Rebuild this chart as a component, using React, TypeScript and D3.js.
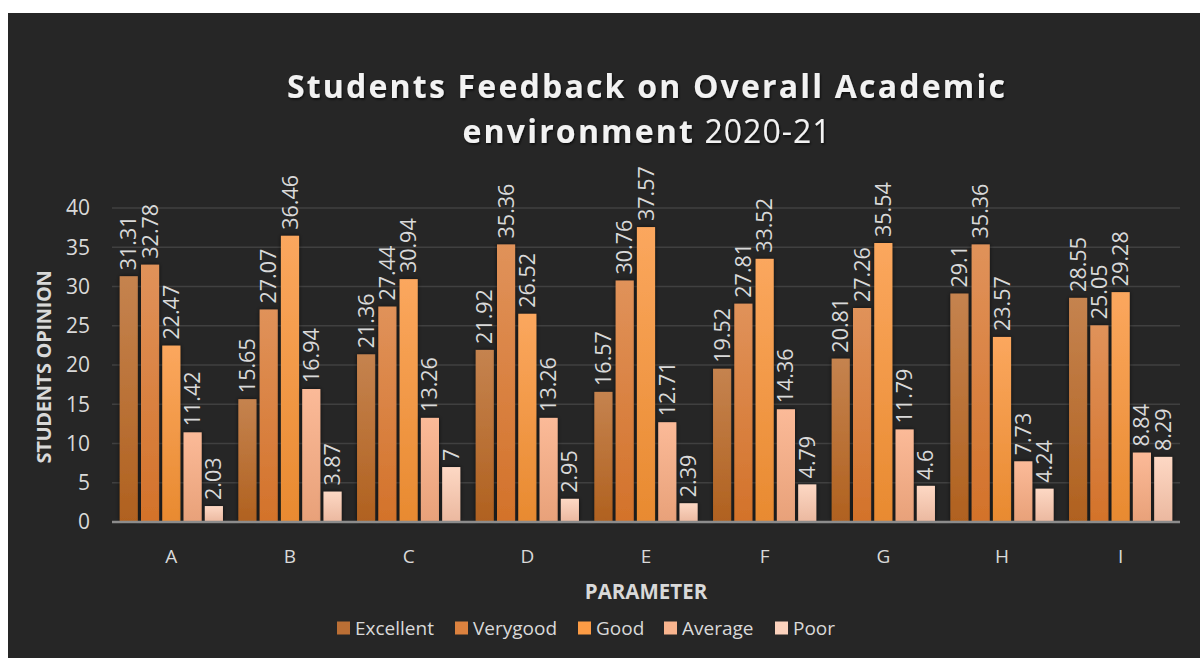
import { scaleBand, scaleLinear } from 'd3'

const categories = ['A', 'B', 'C', 'D', 'E', 'F', 'G', 'H', 'I']
const seriesNames = ['Excellent', 'Verygood', 'Good', 'Average', 'Poor']
const excellent = [31.31, 15.65, 21.36, 21.92, 16.57, 19.52, 20.81, 29.1, 28.55]
const verygood = [32.78, 27.07, 27.44, 35.36, 30.76, 27.81, 27.26, 35.36, 25.05]
const good = [22.47, 36.46, 30.94, 26.52, 37.57, 33.52, 35.54, 23.57, 29.28]
const average = [11.42, 16.94, 13.26, 13.26, 12.71, 14.36, 11.79, 7.73, 8.84]
const poor = [2.03, 3.87, 7, 2.95, 2.39, 4.79, 4.6, 4.24, 8.29]
const yTicks = [0, 5, 10, 15, 20, 25, 30, 35, 40]

const seriesValues = [excellent, verygood, good, average, poor]
const gradients = [
  ['#c5834f', '#b0611f'],
  ['#e0925a', '#d3722a'],
  ['#fba75e', '#e88a30'],
  ['#fbba98', '#e8a179'],
  ['#fdd8c4', '#ebb89f'],
]
const legendColors = ['#bb6f35', '#dc823f', '#fd9c45', '#f8b48e', '#fbd2bd']

const W = 1200
const H = 658
const BG = '#262626'
const TEXT = '#d9d9d9'
const FONT = '"Open Sans", sans-serif'
const PLOT = { left: 112, right: 1180, top: 208, bottom: 522 }

export default function App() {
  const x = scaleBand<string>()
    .domain(categories)
    .range([PLOT.left, PLOT.right])
    .paddingInner(0.13)
    .paddingOuter(0.065)
  const xInner = scaleBand<string>()
    .domain(seriesNames)
    .range([0, x.bandwidth()])
    .paddingInner(0.15)
  const y = scaleLinear().domain([0, 40]).range([PLOT.bottom, PLOT.top])

  const legendX = [337, 455, 578, 664, 775]

  return (
    <svg
      width={W}
      height={H}
      style={{ position: 'absolute', left: 0, top: 0, display: 'block' }}
      fontFamily={FONT}
    >
      <defs>
        {gradients.map(([top, bottom], i) => (
          <linearGradient key={i} id={`grad-${i}`} x1="0" y1="0" x2="0" y2="1">
            <stop offset="0%" stopColor={top} />
            <stop offset="100%" stopColor={bottom} />
          </linearGradient>
        ))}
        <filter id="barShadow" x="-30%" y="-10%" width="160%" height="120%">
          <feDropShadow dx="0" dy="0" stdDeviation="2" floodColor="#000" floodOpacity="0.6" />
        </filter>
        <filter id="textShadow" x="-5%" y="-20%" width="110%" height="140%">
          <feDropShadow dx="1" dy="1.5" stdDeviation="1" floodColor="#000" floodOpacity="0.7" />
        </filter>
      </defs>

      <rect x="0" y="0" width={W} height={H} fill="#ffffff" />
      <rect x="8" y="13" width={W - 8} height={H - 13} fill={BG} />

      {/* title */}
      <g filter="url(#textShadow)" fill="#f2f2f2" textAnchor="middle" fontSize="32">
        <text x={647} y={98} fontWeight="bold" letterSpacing="2.2">
          Students Feedback on Overall Academic
        </text>
        <text x={647} y={143} letterSpacing="2.2">
          <tspan fontWeight="bold">environment</tspan>
          <tspan letterSpacing="1"> 2020-21</tspan>
        </text>
      </g>

      {/* gridlines */}
      {yTicks.map((t) => (
        <g key={t}>
          {t > 0 && (
            <line
              x1={PLOT.left}
              x2={PLOT.right}
              y1={y(t)}
              y2={y(t)}
              stroke="#404040"
              strokeWidth={1.5}
            />
          )}
          <text
            x={90}
            y={y(t)}
            dy="0.35em"
            textAnchor="end"
            fontSize="21"
            fill={TEXT}
          >
            {t}
          </text>
        </g>
      ))}

      {/* bars */}
      {categories.map((c, ci) => (
        <g key={c} transform={`translate(${x(c)},0)`}>
          {seriesNames.map((s, si) => {
            const v = seriesValues[si][ci]
            const bx = xInner(s) ?? 0
            return (
              <rect
                key={s}
                x={bx}
                y={y(v)}
                width={xInner.bandwidth()}
                height={y(0) - y(v)}
                fill={`url(#grad-${si})`}
                filter="url(#barShadow)"
              />
            )
          })}
        </g>
      ))}

      {/* baseline */}
      <line
        x1={PLOT.left}
        x2={PLOT.right}
        y1={y(0)}
        y2={y(0)}
        stroke="#8c8c8c"
        strokeWidth={2.5}
      />

      {/* data labels */}
      {categories.map((c, ci) =>
        seriesNames.map((s, si) => {
          const v = seriesValues[si][ci]
          const cx = (x(c) ?? 0) + (xInner(s) ?? 0) + xInner.bandwidth() / 2
          const ty = y(v) - 6
          return (
            <text
              key={`${c}-${s}`}
              transform={`translate(${cx},${ty}) rotate(-90)`}
              dy="0.35em"
              fontSize="21.5"
              fill={TEXT}
            >
              {v}
            </text>
          )
        }),
      )}

      {/* category labels */}
      {categories.map((c) => (
        <text
          key={c}
          x={(x(c) ?? 0) + x.bandwidth() / 2}
          y={556}
          dy="0.35em"
          textAnchor="middle"
          fontSize="19"
          fill={TEXT}
        >
          {c}
        </text>
      ))}

      {/* axis titles */}
      <text
        x={646}
        y={592}
        dy="0.35em"
        textAnchor="middle"
        fontSize="20.5"
        fontWeight="bold"
        fill={TEXT}
      >
        PARAMETER
      </text>
      <text
        transform={`translate(44,${367}) rotate(-90)`}
        dy="0.35em"
        textAnchor="middle"
        fontSize="20"
        fontWeight="bold"
        letterSpacing="-0.3"
        fill={TEXT}
      >
        STUDENTS OPINION
      </text>

      {/* legend */}
      {seriesNames.map((s, i) => (
        <g key={s} transform={`translate(${legendX[i]},628)`}>
          <rect x={0} y={-6.5} width={13} height={13} fill={legendColors[i]} />
          <text x={18} dy="0.35em" fontSize="19" fill={TEXT}>
            {s}
          </text>
        </g>
      ))}
    </svg>
  )
}
